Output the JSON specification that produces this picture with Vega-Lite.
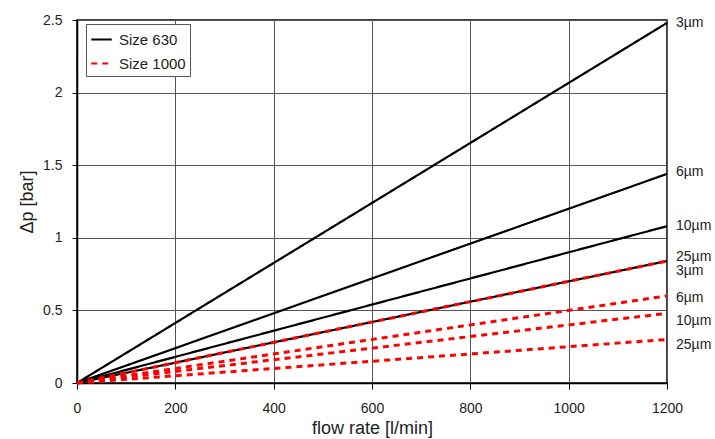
{
  "$schema": "https://vega.github.io/schema/vega-lite/v6.json",
  "width": 590,
  "height": 363,
  "autosize": {"type": "none"},
  "padding": {"left": 77, "top": 20, "right": 48, "bottom": 56},
  "background": "white",
  "config": {
    "font": "Liberation Sans",
    "view": {"stroke": "black", "strokeWidth": 1.5},
    "axis": {"labelFont": "Liberation Sans", "titleFont": "Liberation Sans", "labelFontSize": 14, "titleFontSize": 18, "titleFontWeight": "normal", "labelColor": "#222", "titleColor": "#222", "gridColor": "#555", "gridWidth": 1, "gridOpacity": 1, "domainColor": "black", "domainWidth": 1.5, "tickColor": "black", "tickSize": 5, "labelFlush": false}
  },
  "datasets": {
    "lines": [
      {"size": "Size 630", "filter": "3µm", "q": 0, "dp": 0},
      {"size": "Size 630", "filter": "3µm", "q": 1200, "dp": 2.48},
      {"size": "Size 630", "filter": "6µm", "q": 0, "dp": 0},
      {"size": "Size 630", "filter": "6µm", "q": 1200, "dp": 1.44},
      {"size": "Size 630", "filter": "10µm", "q": 0, "dp": 0},
      {"size": "Size 630", "filter": "10µm", "q": 1200, "dp": 1.08},
      {"size": "Size 630", "filter": "25µm", "q": 0, "dp": 0},
      {"size": "Size 630", "filter": "25µm", "q": 1200, "dp": 0.84},
      {"size": "Size 1000", "filter": "3µm", "q": 0, "dp": 0},
      {"size": "Size 1000", "filter": "3µm", "q": 1200, "dp": 0.84},
      {"size": "Size 1000", "filter": "6µm", "q": 0, "dp": 0},
      {"size": "Size 1000", "filter": "6µm", "q": 1200, "dp": 0.6},
      {"size": "Size 1000", "filter": "10µm", "q": 0, "dp": 0},
      {"size": "Size 1000", "filter": "10µm", "q": 1200, "dp": 0.48},
      {"size": "Size 1000", "filter": "25µm", "q": 0, "dp": 0},
      {"size": "Size 1000", "filter": "25µm", "q": 1200, "dp": 0.3}
    ],
    "labels": [
      {"label": "3µm", "q": 1200, "ly": 2.48},
      {"label": "6µm", "q": 1200, "ly": 1.45},
      {"label": "10µm", "q": 1200, "ly": 1.08},
      {"label": "25µm", "q": 1200, "ly": 0.87},
      {"label": "3µm", "q": 1200, "ly": 0.77},
      {"label": "6µm", "q": 1200, "ly": 0.585},
      {"label": "10µm", "q": 1200, "ly": 0.43},
      {"label": "25µm", "q": 1200, "ly": 0.26}
    ]
  },
  "layer": [
    {
      "data": {"name": "lines"},
      "transform": [{"filter": "datum.size === 'Size 630'"}],
      "mark": {"type": "line", "strokeWidth": 2.2},
      "encoding": {
        "x": {"field": "q", "type": "quantitative", "scale": {"domain": [0, 1200], "nice": false}, "axis": {"title": "flow rate [l/min]", "values": [0, 200, 400, 600, 800, 1000, 1200], "format": "d", "labelPadding": 12, "titlePadding": 4, "tickSize": 6}},
        "y": {"field": "dp", "type": "quantitative", "scale": {"domain": [0, 2.5], "nice": false}, "axis": {"title": "Δp [bar]", "values": [0, 0.5, 1, 1.5, 2, 2.5], "format": "~g", "labelPadding": 10, "titlePadding": 6}},
        "color": {"field": "size", "type": "nominal", "scale": {"domain": ["Size 630", "Size 1000"], "range": ["black", "#ff0000"]}, "legend": {"title": null, "orient": "none", "legendX": 9, "legendY": 4, "strokeColor": "#555", "fillColor": "white", "padding": 4, "labelFontSize": 15, "labelFont": "Liberation Sans", "labelColor": "#222", "symbolType": "stroke", "symbolSize": 420, "symbolStrokeWidth": 2, "rowPadding": 4, "labelOffset": 6}},
        "strokeDash": {"field": "size", "type": "nominal", "scale": {"domain": ["Size 630", "Size 1000"], "range": [[1, 0], [6, 5]]}, "legend": null},
        "detail": {"field": "filter"}
      }
    },
    {
      "data": {"name": "lines"},
      "transform": [{"filter": "datum.size === 'Size 1000'"}],
      "mark": {"type": "line", "strokeWidth": 3},
      "encoding": {
        "x": {"field": "q", "type": "quantitative"},
        "y": {"field": "dp", "type": "quantitative"},
        "color": {"field": "size", "type": "nominal"},
        "strokeDash": {"field": "size", "type": "nominal"},
        "detail": {"field": "filter"}
      }
    },
    {
      "data": {"name": "labels"},
      "mark": {"type": "text", "align": "left", "baseline": "middle", "dx": 9, "fontSize": 14, "font": "Liberation Sans", "color": "#222"},
      "encoding": {
        "x": {"field": "q", "type": "quantitative"},
        "y": {"field": "ly", "type": "quantitative"},
        "text": {"field": "label"}
      }
    }
  ]
}
